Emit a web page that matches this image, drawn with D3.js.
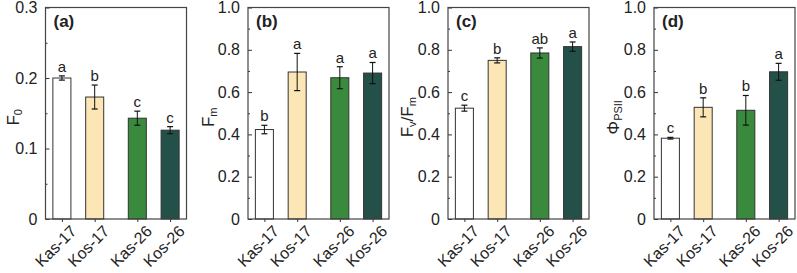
<!DOCTYPE html>
<html><head><meta charset="utf-8">
<script src="https://cdn.jsdelivr.net/npm/d3@7"></script>
<style>body{margin:0;background:#fff}text{font-family:"Liberation Sans",Arial,sans-serif}</style>
</head><body><svg id="c" width="797" height="273"></svg>
<script>
const categories = ["Kas-17","Kos-17","Kas-26","Kos-26"];
const positions = [1,2,3.3,4.3];
const colors = ["#ffffff","#fde6b6","#3a8a3d","#24504a"];
const F0 = [0.200,0.173,0.143,0.126];
const F0err = [0.003,0.017,0.010,0.005];
const F0letters = ["a","b","c","c"];
const Fm = [0.423,0.695,0.668,0.690];
const FmErr = [0.020,0.088,0.052,0.050];
const FmLetters = ["b","a","a","a"];
const FvFm = [0.524,0.750,0.785,0.815];
const FvFmErr = [0.014,0.012,0.024,0.022];
const FvFmLetters = ["c","b","ab","a"];
const PSII = [0.382,0.528,0.514,0.696];
const PSIIerr = [0.004,0.045,0.070,0.040];
const PSIILetters = ["c","b","b","a"];
const panels = [
 {tag:"(a)", vals:F0, err:F0err, letters:F0letters, max:0.3, ticks:[0,0.1,0.2,0.3], minor:[0.05,0.15,0.25], fmt:d=>d===0?"0":d.toFixed(1), label:[["F",""],["0","sub"]], left:45.5, lx:19},
 {tag:"(b)", vals:Fm, err:FmErr, letters:FmLetters, max:1.0, ticks:[0,0.2,0.4,0.6,0.8,1.0], minor:[0.1,0.3,0.5,0.7,0.9], fmt:d=>d===0?"0":d.toFixed(1), label:[["F",""],["m","sub"]], left:248, lx:214},
 {tag:"(c)", vals:FvFm, err:FvFmErr, letters:FvFmLetters, max:1.0, ticks:[0,0.2,0.4,0.6,0.8,1.0], minor:[0.1,0.3,0.5,0.7,0.9], fmt:d=>d===0?"0":d.toFixed(1), label:[["F",""],["v","sub"],["/F",""],["m","sub"]], left:448, lx:413},
 {tag:"(d)", vals:PSII, err:PSIIerr, letters:PSIILetters, max:1.0, ticks:[0,0.2,0.4,0.6,0.8,1.0], minor:[0.1,0.3,0.5,0.7,0.9], fmt:d=>d===0?"0":d.toFixed(1), label:[["Φ",""],["PSII","sub"]], left:654, lx:619}
];
const svg = d3.select("#c");
const W = 141, plotTop = 7.5, plotBottom = 219;
panels.forEach(p=>{
  const g = svg.append("g");
  const x = d3.scaleLinear().domain([0.5,4.8]).range([p.left,p.left+W]);
  const y = d3.scaleLinear().domain([0,p.max]).range([plotBottom,plotTop]);
  const bw = x(1.55)-x(1);
  p.vals.forEach((v,i)=>{
    g.append("rect").attr("x",x(positions[i])-bw/2).attr("y",y(v)).attr("width",bw).attr("height",y(0)-y(v))
      .attr("fill",colors[i]).attr("stroke","#333").attr("stroke-width",1);
    const e = p.err[i];
    g.append("line").attr("x1",x(positions[i])).attr("x2",x(positions[i])).attr("y1",y(v-e)).attr("y2",y(v+e)).attr("stroke","#111").attr("stroke-width",1);
    [v-e,v+e].forEach(t=>g.append("line").attr("x1",x(positions[i])-3).attr("x2",x(positions[i])+3).attr("y1",y(t)).attr("y2",y(t)).attr("stroke","#111").attr("stroke-width",1.2));
    g.append("text").attr("x",x(positions[i])).attr("y",y(v+e)-4).attr("text-anchor","middle").attr("font-size",15).attr("fill","#222").text(p.letters[i]);
  });
  const ya = d3.axisLeft(y).tickValues(p.ticks).tickFormat(p.fmt).tickSizeInner(-4).tickSizeOuter(0).tickPadding(8);
  const yg = g.append("g").attr("transform",`translate(${p.left},0)`).call(ya);
  yg.select(".domain").remove();
  yg.selectAll("text").attr("font-size",16).attr("fill","#222").attr("font-family","Liberation Sans, Arial, sans-serif");
  yg.selectAll("line").attr("stroke","#333");
  const ym = d3.axisLeft(y).tickValues(p.minor).tickFormat("").tickSizeInner(-2).tickSizeOuter(0);
  const ymg = g.append("g").attr("transform",`translate(${p.left},0)`).call(ym);
  ymg.select(".domain").remove(); ymg.selectAll("line").attr("stroke","#333");
  const xa = d3.axisBottom(x).tickValues(positions).tickFormat((d,i)=>categories[i]).tickSizeInner(3).tickSizeOuter(0).tickPadding(2);
  const xg = g.append("g").attr("transform",`translate(0,${plotBottom})`).call(xa);
  xg.select(".domain").remove();
  xg.selectAll("line").attr("stroke","#333");
  xg.selectAll("text").attr("font-size",16).attr("fill","#222").attr("text-anchor","end")
    .attr("font-family","Liberation Sans, Arial, sans-serif")
    .attr("transform","translate(6,4) rotate(-45)").attr("dy","0.5em").attr("dx","0");
  g.append("rect").attr("x",p.left).attr("y",plotTop).attr("width",W).attr("height",plotBottom-plotTop).attr("fill","none").attr("stroke","#444").attr("stroke-width",1.2);
  g.append("text").attr("x",p.left+8).attr("y",plotTop+19).attr("font-size",17).attr("font-weight","bold").attr("fill","#222").text(p.tag);
  const lt = g.append("text").attr("transform",`translate(${p.lx},${(plotTop+plotBottom)/2+4}) rotate(-90)`).attr("text-anchor","middle").attr("font-size",17).attr("fill","#222");
  p.label.forEach(([s,t])=>{
    const ts = lt.append("tspan").text(s);
    if(t==="sub") ts.attr("font-size",11).attr("baseline-shift","-25%");
  });
});
</script></body></html>
